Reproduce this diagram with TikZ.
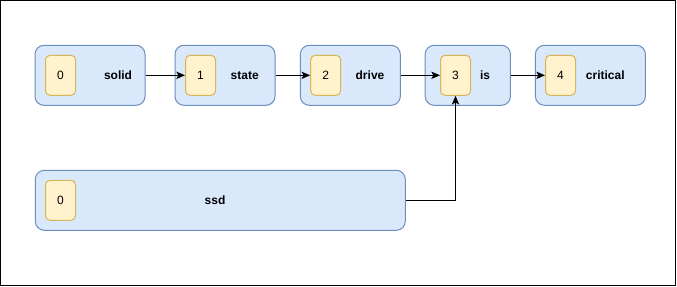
\documentclass[tikz,border=0pt]{standalone}
\usepackage{fontspec}
\setmainfont{Liberation Sans}
\usepackage{xcolor}
\definecolor{WordBlue}{RGB}{218, 232, 252}
\definecolor{WordBlueLine}{RGB}{108, 142, 191}
\definecolor{TagYellow}{RGB}{255, 242, 204}
\definecolor{TagYellowLine}{RGB}{214, 182, 86}
\usetikzlibrary{
    arrows.meta,
    positioning
    }

\begin{document}
\begin{tikzpicture}[x=0.75pt, y=-0.75pt, line width=0.75pt,
    wordbox/.style={draw=WordBlueLine, fill=WordBlue, rounded corners=6.75pt, minimum height=45pt, inner sep=0pt},
    tagbox/.style={draw=TagYellowLine, fill=TagYellow, rounded corners=3.4pt, minimum width=22.5pt, minimum height=30pt, inner sep=0pt, font=\fontsize{9}{11}\selectfont},
    wordtext/.style={inner sep=0pt, font=\fontsize{9}{11}\selectfont\bfseries},
    link/.style={-{Stealth[length=6.5pt,width=5.5pt,inset=1.5pt]}, black}
    ]

    \useasboundingbox (0,0) rectangle (677,286);
    \draw[black] (0.5,0.5) rectangle (675.5,285.5);

    %Sentence
    \node[wordbox, minimum width=82.5pt] (solid) at (90,75.3) {};
    \node[tagbox] (tag0) at (60.5,75.3) {0};
    \node[wordtext] (solidtext) at (118,75.3) {solid};

    \node[wordbox, minimum width=75pt] (state) at (225,75.3) {};
    \node[tagbox] (tag1) at (200.5,75.3) {1};
    \node[wordtext] (statetext) at (244.7,75.3) {state};

    \node[wordbox, minimum width=75pt] (drive) at (350.3,75.3) {};
    \node[tagbox] (tag2) at (325.7,75.3) {2};
    \node[wordtext] (drivetext) at (370,75.3) {drive};

    \node[wordbox, minimum width=64pt] (is) at (467.8,75.3) {};
    \node[tagbox] (tag3) at (455.5,75.3) {3};
    \node[wordtext] (istext) at (485,75.3) {is};

    \node[wordbox, minimum width=82.5pt] (critical) at (590.4,75.3) {};
    \node[tagbox] (tag4) at (560.5,75.3) {4};
    \node[wordtext] (criticaltext) at (605.3,75.3) {critical};

    %Abbreviation
    \node[wordbox, minimum width=277.5pt] (ssd) at (220.3,200.3) {};
    \node[tagbox] (tagssd) at (60.5,200.3) {0};
    \node[wordtext] (ssdtext) at (215,200.3) {ssd};

    %Links
    \draw[link] (solid) -- (tag1);
    \draw[link] (state) -- (tag2);
    \draw[link] (drive) -- (tag3);
    \draw[link] (is) -- (tag4);
    \draw[link] (ssd.east) -| (tag3.south);

\end{tikzpicture}
\end{document}
